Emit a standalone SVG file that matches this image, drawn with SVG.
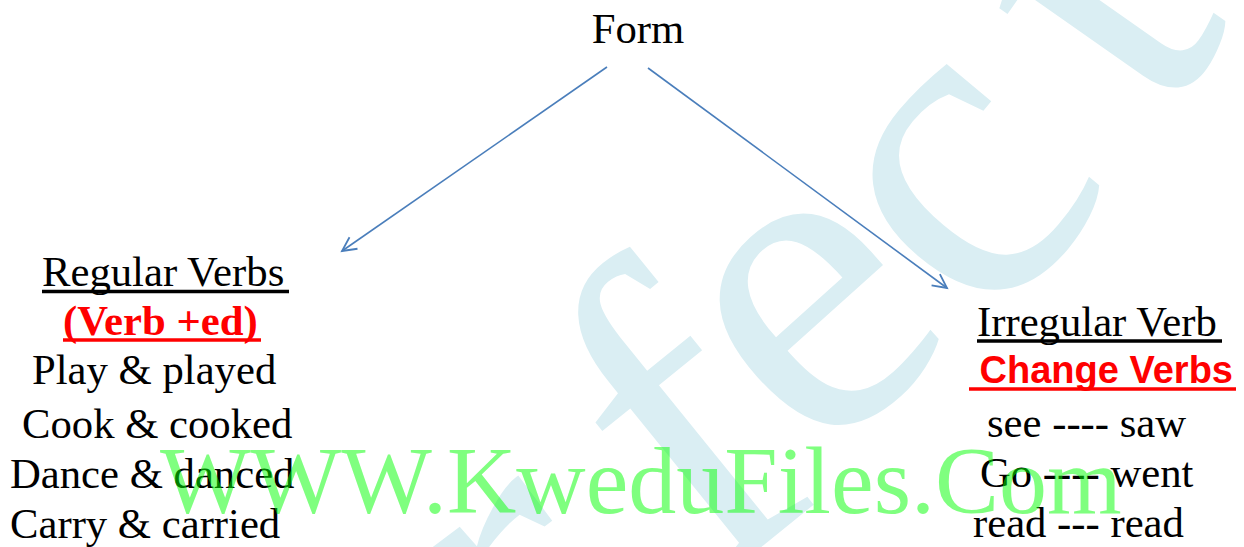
<svg xmlns="http://www.w3.org/2000/svg" width="1244" height="547" viewBox="0 0 1244 547">
<defs>
<style>
.t{font-family:"Liberation Serif","Times New Roman",serif;font-size:42.7px;fill:#000}
.rb{font-family:"Liberation Serif","Times New Roman",serif;font-size:42.7px;font-weight:bold;fill:#FF0000}
.ra{font-family:"Liberation Sans",Arial,sans-serif;font-size:38px;font-weight:bold;fill:#FF0000}
.wm{font-family:"Liberation Serif","Times New Roman",serif;font-size:455px;fill:#DAEEF3;text-anchor:middle}
.gw{font-family:"Liberation Serif","Times New Roman",serif;font-size:96px;fill:#00FF00;fill-opacity:0.5}
.ul{stroke:#000;stroke-width:3.3}
.ulr{stroke:#FF0000;stroke-width:3.6}
.con{stroke:#4A7EBB;stroke-width:1.6;fill:none}
</style>
<marker id="ah" markerUnits="userSpaceOnUse" markerWidth="20" markerHeight="20" refX="15" refY="8" orient="auto" viewBox="0 0 20 16">
<path d="M1,1 L15,8 L1,15" fill="none" stroke="#4A7EBB" stroke-width="1.8"/>
</marker>
</defs>
<rect width="1244" height="547" fill="#FFFFFF"/>
<g id="watermark-perfect">
<text class="wm" transform="translate(180,1000) rotate(-33)">P</text>
<text class="wm" transform="translate(390,830) rotate(-35)">e</text>
<text class="wm" transform="translate(590,690) rotate(-37)">r</text>
<text class="wm" transform="translate(770,540) rotate(-39)">f</text>
<text class="wm" transform="translate(890,400) rotate(-42)">e</text>
<text class="wm" transform="translate(1053,260) rotate(-50)">c</text>
<text class="wm" transform="translate(1197,75) rotate(-55)">t</text>
</g>
<g id="connectors">
<line class="con" x1="607" y1="67" x2="342" y2="251" marker-end="url(#ah)"/>
<line class="con" x1="648" y1="68" x2="947" y2="288" marker-end="url(#ah)"/>
</g>
<g id="node-form">
<text class="t" x="638" y="43" text-anchor="middle">Form</text>
</g>
<g id="node-regular">
<text class="t" x="42" y="286">Regular Verbs</text>
<line class="ul" x1="42" y1="291.5" x2="289" y2="291.5"/>
<text class="rb" x="63" y="335">(Verb +ed)</text>
<line class="ulr" x1="63" y1="340" x2="261" y2="340"/>
<text class="t" x="32" y="384">Play &amp; played</text>
<text class="t" x="22" y="438">Cook &amp; cooked</text>
<text class="t" x="10" y="488">Dance &amp; danced</text>
<text class="t" x="10" y="537.5">Carry &amp; carried</text>
</g>
<g id="node-irregular">
<text class="t" x="977" y="335.5">Irregular Verb</text>
<line class="ul" x1="977" y1="341" x2="1222" y2="341"/>
<text class="ra" x="969" y="382.5" xml:space="preserve"> Change Verbs</text>
<line class="ulr" x1="969" y1="389" x2="1236" y2="389"/>
<text class="t" x="987" y="436.5">see ---- saw</text>
<text class="t" x="980" y="486.5">Go ---- went</text>
<text class="t" x="973" y="537">read --- read</text>
</g>
<g id="watermark-site">
<text class="gw" x="160" y="513">WWW.KweduFiles.Com</text>
</g>
</svg>
